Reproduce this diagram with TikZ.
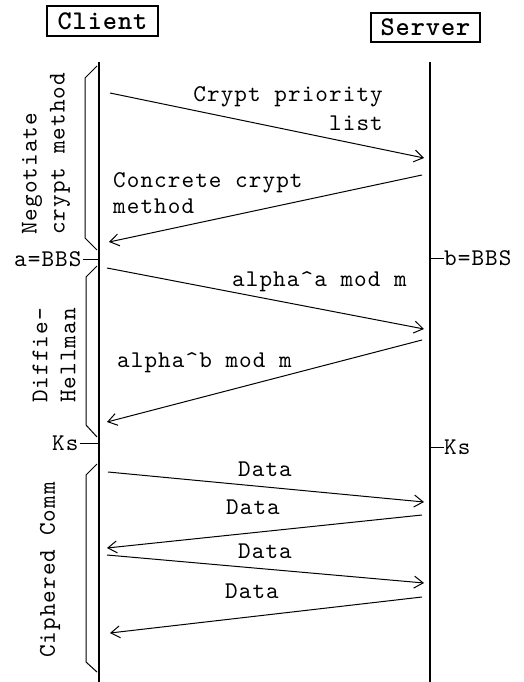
\documentclass[tikz,border=0pt]{standalone}
\usepackage{fontspec}
\newfontfamily\courreg[LetterSpace=4.5]{lmmono10-regular.otf}
\newfontfamily\courbold[LetterSpace=3.5]{lmmonolt10-bold.otf}
\usetikzlibrary{arrows.meta}
\tikzset{
  lifeline/.style={line width=1.6pt},
  msg/.style={line width=1pt,-{Straight Barb[length=9pt,width=12pt,line width=1pt]}},
  bracket/.style={line width=1pt},
  tick/.style={line width=1pt},
  lbl/.style={inner sep=0pt,font=\courreg\fontsize{24}{28}\selectfont},
  head/.style={draw,line width=1.4pt,inner sep=0pt,font=\courbold\fontsize{27}{28}\selectfont},
}
\begin{document}
\begin{tikzpicture}[x=1pt,y=-1pt]
\useasboundingbox (0,0) rectangle (523,682);
% header boxes
\node[head,minimum width=111pt,minimum height=30pt] (client) at (102.5,21) {Client};
\node[head,minimum width=109pt,minimum height=29pt] (server) at (425.5,27.5) {Server};
% lifelines
\coordinate (c0) at (99,62);
\coordinate (c1) at (99,682);
\coordinate (s0) at (430,62);
\coordinate (s1) at (430,682);
\draw[lifeline] (c0) -- (c1);
\draw[lifeline] (s0) -- (s1);
% brackets
\draw[bracket] (97,66) -- (85,78) -- (85,238) -- (97,250);
\draw[bracket] (97,266) -- (86,277) -- (86,425) -- (97,437);
\draw[bracket] (97,464) -- (86,475) -- (86,662) -- (97,672);
% phase labels
\node[lbl,rotate=90,anchor=west,align=left] (neg) at (46,235) {Negotiate\\crypt method};
\node[lbl,rotate=90,anchor=west,align=left] (dh) at (54,403) {Diffie-\\Hellman};
\node[lbl,rotate=90,anchor=west] (cc) at (50,658) {Ciphered Comm};
% key labels
\node[lbl,anchor=base west] (abbs) at (14,266) {a=BBS};
\coordinate (abbsC) at (98,259);
\draw[tick] (abbs.east |- abbsC) ++(1,0) -- (abbsC);
\node[lbl,anchor=base west] (ks1) at (52,450) {Ks};
\coordinate (ks1C) at (98,443);
\draw[tick] (ks1.east |- ks1C) ++(1,0) -- (ks1C);
\node[lbl,anchor=base west] (bbbs) at (444,265) {b=BBS};
\coordinate (bbbsS) at (431,258);
\draw[tick] (bbbsS) -- (bbbs.west |- bbbsS);
\node[lbl,anchor=base west] (ks2) at (444,454) {Ks};
\coordinate (ks2S) at (431,447);
\draw[tick] (ks2S) -- (ks2.west |- ks2S);
% message end points
\coordinate (m1a) at (110,93);  \coordinate (m1b) at (424,158);
\coordinate (m2a) at (422,175); \coordinate (m2b) at (109,242);
\coordinate (m3a) at (107,268); \coordinate (m3b) at (424,329);
\coordinate (m4a) at (422,340); \coordinate (m4b) at (107,422);
\coordinate (m5a) at (108,472); \coordinate (m5b) at (424,502);
\coordinate (m6a) at (422,515); \coordinate (m6b) at (107,548);
\coordinate (m7a) at (107,555); \coordinate (m7b) at (424,583);
\coordinate (m8a) at (422,597); \coordinate (m8b) at (110,633);
\draw[msg] (m1a) -- (m1b);
\draw[msg] (m2a) -- (m2b);
\draw[msg] (m3a) -- (m3b);
\draw[msg] (m4a) -- (m4b);
\draw[msg] (m5a) -- (m5b);
\draw[msg] (m6a) -- (m6b);
\draw[msg] (m7a) -- (m7b);
\draw[msg] (m8a) -- (m8b);
% message labels
\node[lbl,anchor=base east] (t1) at (383,102) {Crypt priority};
\node[lbl,anchor=base east] (t1b) at (383,130) {list};
\node[lbl,anchor=base west] (t2) at (113,187) {Concrete crypt};
\node[lbl,anchor=base west] (t2b) at (113,213) {method};
\node[lbl,anchor=base west] (t3) at (232,286) {alpha\textasciicircum a mod m};
\node[lbl,anchor=base west] (t4) at (117,367) {alpha\textasciicircum b mod m};
\node[lbl,anchor=base] (t5) at (265,476) {Data};
\node[lbl,anchor=base] (t6) at (253,514) {Data};
\node[lbl,anchor=base] (t7) at (265,558) {Data};
\node[lbl,anchor=base] (t8) at (252,598) {Data};
\end{tikzpicture}
\end{document}
